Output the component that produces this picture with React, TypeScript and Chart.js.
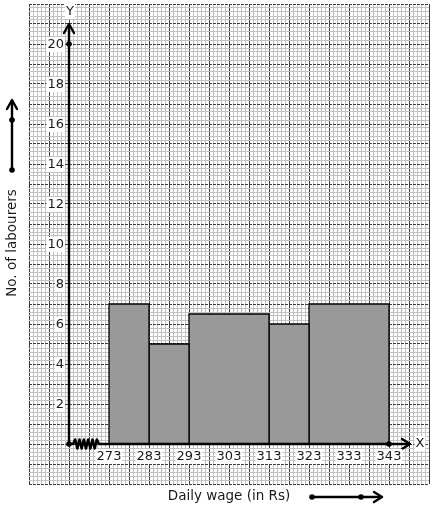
import React, { useEffect, useRef } from "react";
import { Chart, registerables } from "chart.js";

Chart.register(...registerables);

// ---- data ----
const binStarts = [273, 283, 293, 313, 323];
const binEnds = [283, 293, 313, 323, 343];
const labourers = [7, 5, 6.5, 6, 7];
const xTickLabels = [273, 283, 293, 303, 313, 323, 333, 343];
const yTickLabels = [2, 4, 6, 8, 10, 12, 14, 16, 18, 20];
const xAxisTitle = "Daily wage (in Rs)";
const yAxisTitle = "No. of labourers";

// graph-paper range (data units)
const X_MIN = 253;
const X_MAX = 353;
const X_ORIGIN = 263;
const Y_MIN = -2;
const Y_MAX = 22;

const FONT = "DejaVu Sans";

function labelBox(ctx: CanvasRenderingContext2D, text: string, x: number, y: number, align: CanvasTextAlign) {
  const w = ctx.measureText(text).width;
  let left = x;
  if (align === "center") left = x - w / 2;
  else if (align === "right") left = x - w;
  ctx.fillStyle = "#ffffff";
  ctx.fillRect(left - 1, y - 7, w + 2, 15);
  ctx.fillStyle = "#1a1a1a";
  ctx.textAlign = align;
  ctx.textBaseline = "middle";
  ctx.fillText(text, x, y + 0.5);
}

function chevronUp(ctx: CanvasRenderingContext2D, x: number, y: number) {
  ctx.beginPath();
  ctx.moveTo(x - 5, y + 9);
  ctx.lineTo(x, y);
  ctx.lineTo(x + 5, y + 9);
  ctx.stroke();
}
function chevronRight(ctx: CanvasRenderingContext2D, x: number, y: number) {
  ctx.beginPath();
  ctx.moveTo(x - 8, y - 5);
  ctx.lineTo(x, y);
  ctx.lineTo(x - 8, y + 5);
  ctx.stroke();
}
function dot(ctx: CanvasRenderingContext2D, x: number, y: number) {
  ctx.beginPath();
  ctx.arc(x, y, 2.8, 0, Math.PI * 2);
  ctx.fill();
}

const decorPlugin = {
  id: "decor",
  afterDraw(chart: any) {
    const ctx: CanvasRenderingContext2D = chart.ctx;
    const xs = chart.scales.x;
    const ys = chart.scales.y;
    const ox = xs.getPixelForValue(X_ORIGIN);
    const oy = ys.getPixelForValue(0);
    ctx.save();
    ctx.strokeStyle = "#000";
    ctx.fillStyle = "#000";
    ctx.lineWidth = 2.4;
    ctx.lineCap = "round";
    ctx.lineJoin = "round";

    // y axis
    const yTip = ys.getPixelForValue(21);
    ctx.beginPath();
    ctx.moveTo(ox, oy);
    ctx.lineTo(ox, yTip + 1);
    ctx.stroke();
    chevronUp(ctx, ox, yTip);

    // x axis with kink
    const xTip = xs.getPixelForValue(348.25);
    const zz0 = ox + 4;
    const zz1 = ox + 30;
    ctx.beginPath();
    ctx.moveTo(ox, oy);
    ctx.lineTo(zz0, oy);
    const n = 12;
    ctx.lineWidth = 2.6;
    for (let i = 1; i < n; i++) {
      const px = zz0 + ((zz1 - zz0) * i) / n;
      ctx.lineTo(px, oy + (i % 2 === 1 ? -4.5 : 4.5));
    }
    ctx.lineTo(zz1, oy);
    ctx.lineTo(xTip - 1, oy);
    ctx.stroke();
    ctx.lineWidth = 2.4;
    chevronRight(ctx, xTip, oy);

    dot(ctx, ox, oy);
    dot(ctx, ox, ys.getPixelForValue(20));
    dot(ctx, xs.getPixelForValue(343), oy);

    // tick labels
    ctx.font = `13px "${FONT}"`;
    for (const v of yTickLabels) {
      labelBox(ctx, String(v), ox - 5, ys.getPixelForValue(v), "right");
    }
    for (const v of xTickLabels) {
      labelBox(ctx, String(v), xs.getPixelForValue(v), oy + 12, "center");
    }
    labelBox(ctx, "Y", ox + 1, 11, "center");
    labelBox(ctx, "X", xTip + 10, oy - 1, "center");

    // axis titles
    ctx.font = `13.5px "${FONT}"`;
    ctx.fillStyle = "#1a1a1a";
    ctx.textAlign = "center";
    ctx.textBaseline = "middle";
    ctx.fillText(xAxisTitle, 229, 496);
    ctx.save();
    ctx.translate(12, 243);
    ctx.rotate(-Math.PI / 2);
    ctx.fillText(yAxisTitle, 0, 0);
    ctx.restore();

    // decorative direction arrows
    ctx.strokeStyle = "#000";
    ctx.fillStyle = "#000";
    ctx.lineWidth = 2.4;
    ctx.beginPath();
    ctx.moveTo(12, 170);
    ctx.lineTo(12, 101);
    ctx.stroke();
    chevronUp(ctx, 12, 100);
    dot(ctx, 12, 170);
    dot(ctx, 12, 120);

    ctx.beginPath();
    ctx.moveTo(312, 497);
    ctx.lineTo(381, 497);
    ctx.stroke();
    chevronRight(ctx, 382, 497);
    dot(ctx, 312, 497);
    dot(ctx, 361, 497);

    ctx.restore();
  },
};

export default function App() {
  const ref = useRef<HTMLCanvasElement | null>(null);
  useEffect(() => {
    if (!ref.current) return;
    const datasets = binStarts.map((s, i) => ({
      data: [
        { x: s, y: 0 },
        { x: s, y: labourers[i] },
        { x: binEnds[i], y: labourers[i] },
        { x: binEnds[i], y: 0 },
      ],
      borderColor: "#000",
      borderWidth: 1.3,
      backgroundColor: "#999999",
      fill: "origin",
      pointRadius: 0,
      tension: 0,
    }));
    const isMajorX = (v: number) => Math.abs(((v - X_MIN) % 5 + 5) % 5) < 1e-6;
    const isMajorY = (v: number) => Math.abs(v - Math.round(v)) < 1e-6;
    const chart = new Chart(ref.current, {
      type: "line",
      data: { datasets } as any,
      plugins: [decorPlugin],
      options: {
        animation: false,
        responsive: false,
        layout: { padding: { left: 29, right: 5, top: 4, bottom: 26 } },
        plugins: { legend: { display: false }, tooltip: { enabled: false } },
        scales: {
          x: {
            type: "linear",
            min: X_MIN,
            max: X_MAX,
            ticks: { display: false, stepSize: 1, autoSkip: false },
            grid: {
              drawTicks: false,
              lineWidth: 1,
              color: (c: any) => (isMajorX(c.tick.value) ? "#3c3c3c" : "#c2c2c2"),
            },
            border: { display: false },
          },
          y: {
            type: "linear",
            min: Y_MIN,
            max: Y_MAX,
            ticks: { display: false, stepSize: 0.2, autoSkip: false },
            grid: {
              drawTicks: false,
              lineWidth: 1,
              color: (c: any) => (isMajorY(c.tick.value) ? "#3c3c3c" : "#c2c2c2"),
            },
            border: {
              display: false,
              dash: (c: any) => (c.tick && isMajorY(c.tick.value) ? [3, 1] : []),
            } as any,
          },
        },
      } as any,
    });
    return () => chart.destroy();
  }, []);
  return (
    <div style={{ position: "fixed", left: 0, top: 0, width: 434, height: 510, background: "#fff" }}>
      <canvas ref={ref} width={434} height={510} style={{ width: 434, height: 510, display: "block" }} />
    </div>
  );
}
